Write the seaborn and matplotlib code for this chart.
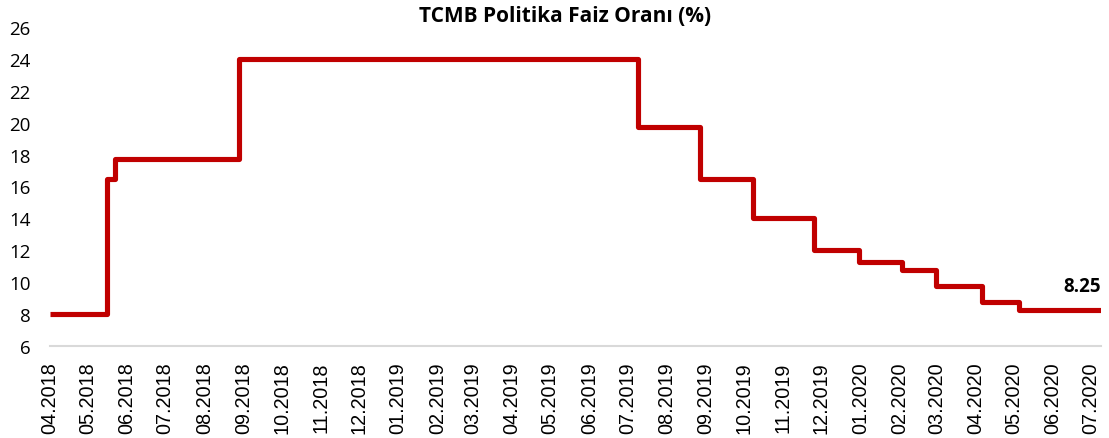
import matplotlib
matplotlib.use("Agg")
import matplotlib.pyplot as plt
import seaborn as sns
import pandas as pd

# ---- data ----
change_dates = ["2018-04-17", "2018-06-01", "2018-06-07", "2018-09-13", "2019-07-25",
                "2019-09-12", "2019-10-24", "2019-12-11", "2020-01-16", "2020-02-19",
                "2020-03-17", "2020-04-22", "2020-05-21", "2020-07-25"]
policy_rate = [8.0, 16.5, 17.75, 24.0, 19.75, 16.5, 14.0, 12.0, 11.25, 10.75,
               9.75, 8.75, 8.25, 8.25]
tick_labels = ["04.2018", "05.2018", "06.2018", "07.2018", "08.2018", "09.2018", "10.2018",
               "11.2018", "12.2018", "01.2019", "02.2019", "03.2019", "04.2019", "05.2019",
               "06.2019", "07.2019", "08.2019", "09.2019", "10.2019", "11.2019", "12.2019",
               "01.2020", "02.2020", "03.2020", "04.2020", "05.2020", "06.2020", "07.2020"]
y_ticks = [6, 8, 10, 12, 14, 16, 18, 20, 22, 24, 26]
title = "TCMB Politika Faiz Oranı (%)"
last_label = "8.25"

df = pd.DataFrame({"date": pd.to_datetime(change_dates), "rate": policy_rate})

sns.set_theme(style="white")
plt.rcParams["font.family"] = ["Open Sans", "DejaVu Sans"]

W, H = 1109, 439
fig = plt.figure(figsize=(W / 100, H / 100), dpi=100)
ax = fig.add_axes([50 / W, 1 - 347 / H, (1101 - 50) / W, (347 - 28) / H])

sns.lineplot(data=df, x="date", y="rate", ax=ax, color="#C00000", linewidth=3.7,
             drawstyle="steps-post", solid_joinstyle="round", solid_capstyle="butt",
             estimator=None)

ax.set_xlim(df["date"].iloc[0], df["date"].iloc[-1])
ax.set_ylim(6, 26)
ax.set_yticks(y_ticks)
ax.set_yticklabels([str(v) for v in y_ticks], fontsize=13.5, color="#000000")

tick_pos = [pd.to_datetime("17." + t, format="%d.%m.%Y") for t in tick_labels]
ax.set_xticks(tick_pos)
ax.set_xticklabels(tick_labels, rotation=90, fontsize=14.3, color="#000000",
                   family=["Liberation Sans", "DejaVu Sans"])
ax.tick_params(axis="y", length=0, pad=14)
ax.tick_params(axis="x", length=0, pad=11)
ax.set_xlabel("")
ax.set_ylabel("")

for s in ["top", "right", "left"]:
    ax.spines[s].set_visible(False)
ax.spines["bottom"].set_color("#D9D9D9")
ax.spines["bottom"].set_linewidth(1.5)
ax.grid(False)

ax.annotate(last_label, xy=(df["date"].iloc[-1], df["rate"].iloc[-1]),
            xytext=(0, 10), textcoords="offset points", ha="right", va="bottom",
            fontsize=13.5, fontweight="bold", color="#000000")

fig.text(565 / W, 1 - 16 / H, title, ha="center", va="center", fontsize=15,
         fontweight="bold", color="#000000")

fig.savefig("out.png", dpi=100, facecolor="white")
